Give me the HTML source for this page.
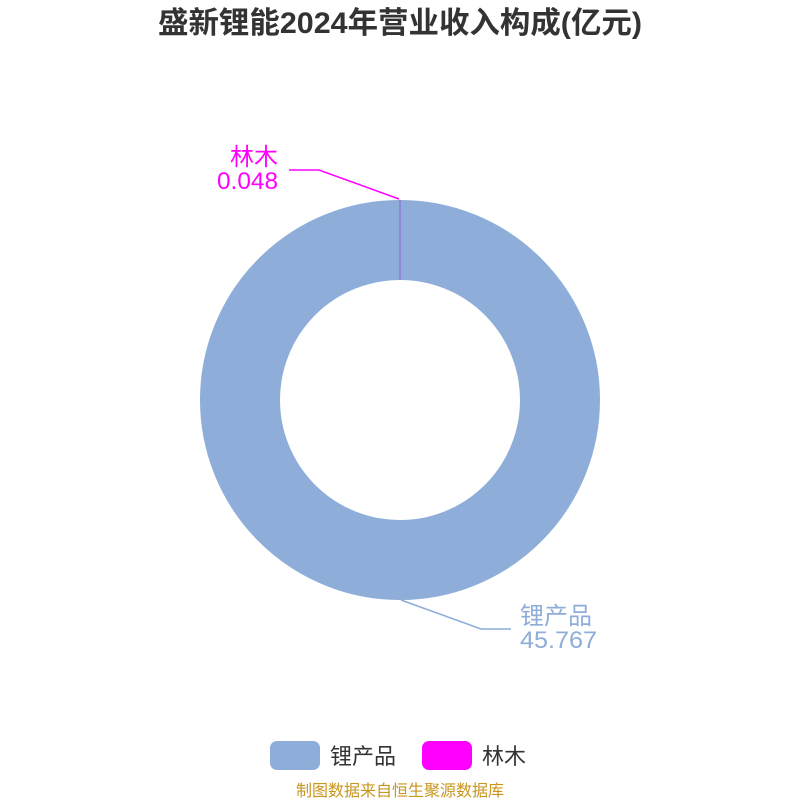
<!DOCTYPE html>
<html><head><meta charset="utf-8"><style>
html,body{margin:0;padding:0;background:#fff;}
body{width:800px;height:800px;overflow:hidden;}
</style></head><body>
<svg width="800" height="800" xmlns="http://www.w3.org/2000/svg" font-family="Liberation Sans, Noto Sans CJK SC, sans-serif">
<text x="400" y="33" text-anchor="middle" font-size="30" font-weight="bold" fill="#333" textLength="484" lengthAdjust="spacingAndGlyphs">盛新锂能2024年营业收入构成(亿元)</text>
<circle cx="400" cy="400" r="160" fill="none" stroke="#8eadd9" stroke-width="80"/>
<line x1="400" y1="200" x2="400" y2="280" stroke="#8b6fd0" stroke-width="1.2"/>
<polyline points="289,170 319,170 399,199" fill="none" stroke="#ff00ff" stroke-width="1.5"/>
<text x="278" y="165" text-anchor="end" font-size="24" fill="#ff00ff">林木</text>
<text x="278" y="189" text-anchor="end" font-size="24" fill="#ff00ff" textLength="61" lengthAdjust="spacingAndGlyphs">0.048</text>
<polyline points="401,600 481,629 511,629" fill="none" stroke="#8eadd9" stroke-width="1.5"/>
<text x="520" y="624" font-size="24" fill="#8eadd9">锂产品</text>
<text x="520" y="648" font-size="24" fill="#8eadd9" textLength="77" lengthAdjust="spacingAndGlyphs">45.767</text>
<rect x="270" y="741" width="50" height="29" rx="7" fill="#8eadd9"/>
<text x="330" y="764" font-size="22" fill="#333">锂产品</text>
<rect x="422" y="741" width="50" height="29" rx="7" fill="#ff00ff"/>
<text x="482" y="764" font-size="22" fill="#333">林木</text>
<text x="400" y="796" text-anchor="middle" font-size="16" fill="#c8961e">制图数据来自恒生聚源数据库</text>
</svg>
</body></html>
